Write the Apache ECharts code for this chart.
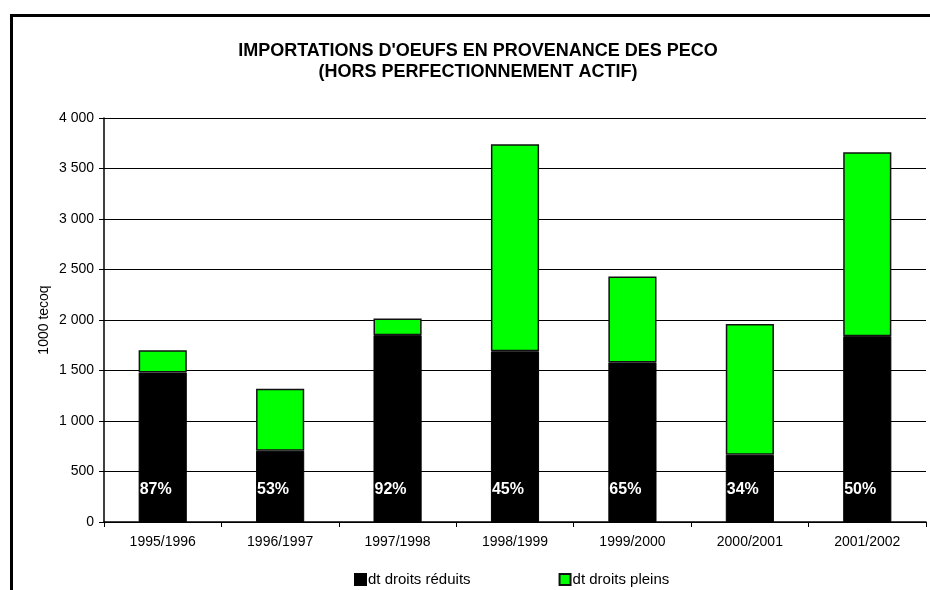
<!DOCTYPE html>
<html>
<head>
<meta charset="utf-8">
<script src="https://cdn.jsdelivr.net/npm/echarts@6/dist/echarts.min.js"></script>
</head>
<body style="margin:0;background:#fff;">

<div id="main" style="width: 930px;height:590px;"></div>

<script type="text/javascript">
    // données
    var campagnes = ['1995/1996', '1996/1997', '1997/1998', '1998/1999', '1999/2000', '2000/2001', '2001/2002'];
    var droitsReduits = [1480, 705, 1850, 1690, 1580, 665, 1840];
    var droitsPleins = [220, 615, 165, 2050, 850, 1295, 1820];
    var pourcentages = ['87%', '53%', '92%', '45%', '65%', '34%', '50%'];

    var myChart = echarts.init(document.getElementById('main'));

    var police = '"Liberation Sans", Arial, sans-serif';

    var option = {
        animation: false,
        backgroundColor: '#fff',
        title: {
            text: "IMPORTATIONS D'OEUFS EN PROVENANCE DES PECO\n(HORS PERFECTIONNEMENT ACTIF)",
            left: 473,
            textAlign: 'center',
            top: 36,
            textStyle: {
                fontFamily: police,
                fontSize: 18,
                fontWeight: 'bold',
                color: '#000',
                lineHeight: 21
            }
        },
        graphic: [{
            type: 'rect',
            shape: { x: 11.5, y: 15.5, width: 1000, height: 1000 },
            style: { fill: 'none', stroke: '#000', lineWidth: 3 },
            silent: true
        }],
        legend: {
            data: ['dt droits réduits', 'dt droits pleins'],
            top: 567,
            left: 349,
            itemWidth: 11,
            itemHeight: 11,
            itemGap: 88,
            icon: 'rect',
            textStyle: { fontFamily: police, fontSize: 15, color: '#000', padding: [0, 0, 0, -3] }
        },
        grid: { left: 104, right: 4, top: 118, bottom: 68 },
        xAxis: {
            type: 'category',
            data: campagnes,
            axisLine: { lineStyle: { color: '#000', width: 1.5 } },
            axisTick: { show: true, length: 5, lineStyle: { color: '#000' } },
            axisLabel: { fontFamily: police, fontSize: 14, color: '#000', margin: 13 }
        },
        yAxis: {
            type: 'value',
            min: 0,
            max: 4000,
            interval: 500,
            name: '1000 tecoq',
            nameLocation: 'middle',
            nameMoveOverlap: false,
            nameGap: 53,
            nameTextStyle: { fontFamily: police, fontSize: 14, color: '#000' },
            axisLine: { show: true, lineStyle: { color: '#000', width: 1.5 } },
            axisTick: { show: true, length: 5, lineStyle: { color: '#000' } },
            splitLine: { lineStyle: { color: '#000', width: 1.2 } },
            axisLabel: {
                fontFamily: police,
                fontSize: 14,
                color: '#000',
                margin: 10,
                formatter: function (v) {
                    return String(v).replace(/\B(?=(\d{3})+(?!\d))/g, ' ');
                }
            }
        },
        series: [{
            name: 'dt droits réduits',
            type: 'bar',
            stack: 'total',
            data: droitsReduits,
            barCategoryGap: '59%',
            itemStyle: { color: '#000', borderColor: '#000', borderWidth: 1 },
            label: {
                show: true,
                position: 'insideBottomLeft',
                distance: 1,
                offset: [0, -23],
                color: '#fff',
                fontFamily: police,
                fontSize: 16,
                fontWeight: 'bold',
                formatter: function (p) { return pourcentages[p.dataIndex]; }
            }
        }, {
            name: 'dt droits pleins',
            type: 'bar',
            stack: 'total',
            data: droitsPleins,
            itemStyle: { color: '#00ff00', borderColor: '#111', borderWidth: 1.5 }
        }]
    };

    myChart.setOption(option);
</script>

</body>
</html>
